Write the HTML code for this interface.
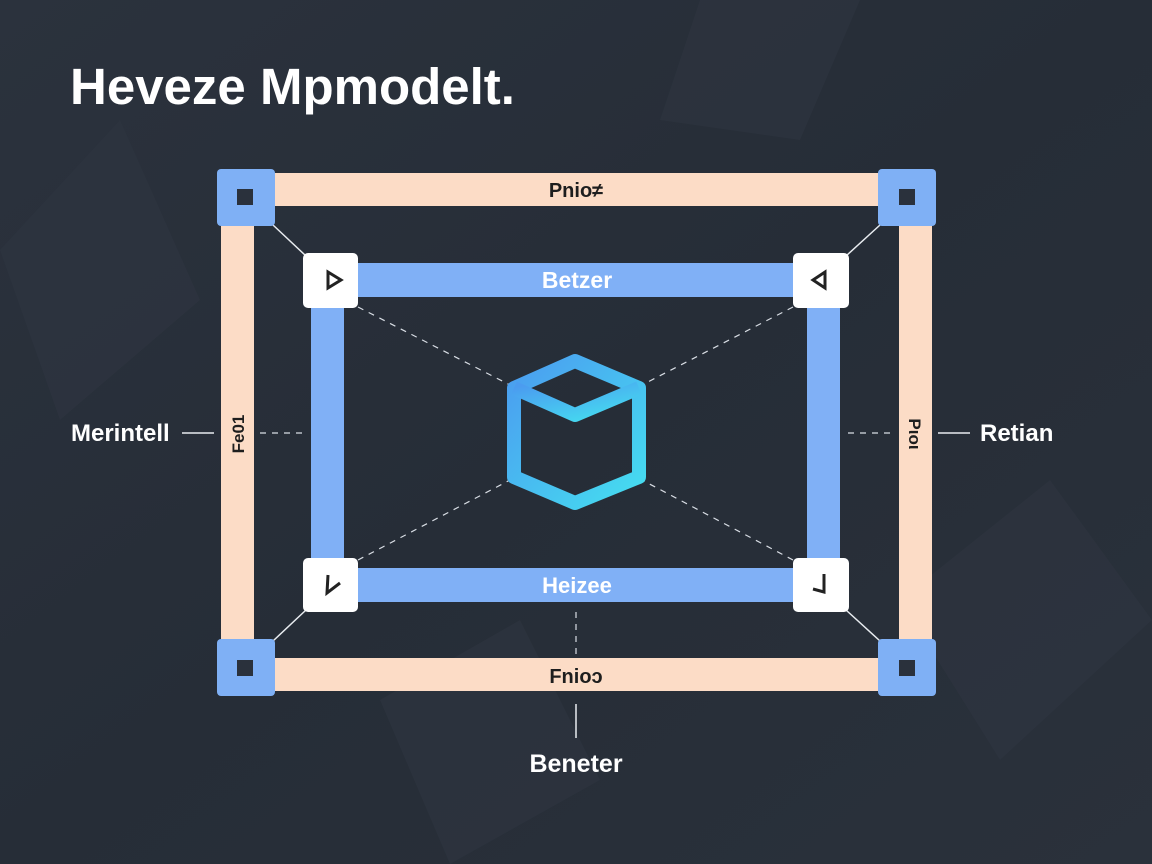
<!DOCTYPE html>
<html><head><meta charset="utf-8"><style>
html,body{margin:0;padding:0;width:1152px;height:864px;overflow:hidden;background:#262d37}
svg{display:block}
text{font-family:"Liberation Sans",sans-serif;font-weight:bold}
</style></head><body>
<svg width="1152" height="864" viewBox="0 0 1152 864" xmlns="http://www.w3.org/2000/svg">
<defs>
<linearGradient id="bg" x1="0" y1="0" x2="1" y2="1">
<stop offset="0" stop-color="#2b323d"/><stop offset="0.5" stop-color="#262d37"/><stop offset="1" stop-color="#2a313b"/>
</linearGradient>
<linearGradient id="cg" x1="0" y1="0" x2="1" y2="1">
<stop offset="0" stop-color="#4b9cf0"/><stop offset="1" stop-color="#45def0"/>
</linearGradient>
</defs>
<rect width="1152" height="864" fill="url(#bg)"/>
<g fill="#2e3541" opacity="0.6">
<polygon points="0,250 120,120 200,300 60,420"/>
<polygon points="900,600 1050,480 1152,620 1000,760"/>
<polygon points="380,700 520,620 600,780 450,864"/>
<polygon points="700,0 860,0 800,140 660,120"/>
</g>
<text x="70" y="104" font-size="51" fill="#ffffff">Heveze Mpmodelt.</text>

<g stroke="#e8ecf0" stroke-width="1.5" fill="none">
<line x1="273" y1="225" x2="306" y2="256"/>
<line x1="880" y1="225" x2="846" y2="256"/>
<line x1="273" y1="641" x2="306" y2="610"/>
<line x1="880" y1="641" x2="846" y2="610"/>
<line x1="182" y1="433" x2="214" y2="433"/>
<line x1="938" y1="433" x2="970" y2="433"/>
<line x1="576" y1="704" x2="576" y2="738"/>
</g>
<g stroke="#d8dde4" stroke-width="1.2" fill="none" stroke-dasharray="6,6">
<line x1="358" y1="307" x2="510" y2="385"/>
<line x1="793" y1="307" x2="642" y2="385"/>
<line x1="358" y1="560" x2="510" y2="480"/>
<line x1="793" y1="560" x2="642" y2="480"/>
<line x1="260" y1="433" x2="305" y2="433"/>
<line x1="848" y1="433" x2="893" y2="433"/>
<line x1="576" y1="612" x2="576" y2="655"/>
</g>

<g fill="#fcdcc6">
<rect x="270" y="173" width="612" height="33"/>
<rect x="270" y="658" width="612" height="33"/>
<rect x="221" y="220" width="33" height="424"/>
<rect x="899" y="220" width="33" height="424"/>
</g>
<g fill="#7fb0f5">
<rect x="217" y="169" width="58" height="57" rx="4"/>
<rect x="878" y="169" width="58" height="57" rx="4"/>
<rect x="217" y="639" width="58" height="57" rx="4"/>
<rect x="878" y="639" width="58" height="57" rx="4"/>
</g>
<g fill="#2a313c">
<rect x="237" y="189" width="16" height="16"/>
<rect x="899" y="189" width="16" height="16"/>
<rect x="237" y="660" width="16" height="16"/>
<rect x="899" y="660" width="16" height="16"/>
</g>

<g fill="#80b0f6">
<rect x="350" y="263" width="450" height="34"/>
<rect x="350" y="568" width="450" height="34"/>
<rect x="311" y="300" width="33" height="265"/>
<rect x="807" y="300" width="33" height="265"/>
</g>
<g fill="#ffffff">
<rect x="303" y="253" width="55" height="55" rx="5"/>
<rect x="793" y="253" width="56" height="55" rx="5"/>
<rect x="303" y="558" width="55" height="54" rx="5"/>
<rect x="793" y="558" width="56" height="54" rx="5"/>
</g>
<g stroke="#222" stroke-width="3" fill="none">
<polygon points="328,272 328,288 341,280"/>
<polygon points="825,272 825,288 813,280"/>
<polyline points="328,575 327,593 340,583"/>
<polyline points="824,574 824,592 813,589"/>
</g>

<g stroke="url(#cg)" stroke-width="14" fill="none" stroke-linejoin="round">
<polygon points="575,361 639,388 639,477 575,503 514,477 514,388"/>
<polyline points="514,388 575,415 639,388"/>
<line x1="575" y1="415" x2="575" y2="503"/>
</g>

<text x="576" y="197" font-size="20" fill="#1e1e1e" text-anchor="middle">Pnio≠</text>
<text x="577" y="288" font-size="23" fill="#ffffff" text-anchor="middle">Betzer</text>
<text x="577" y="593" font-size="22" fill="#ffffff" text-anchor="middle">Heizee</text>
<text x="576" y="683" font-size="20" fill="#1e1e1e" text-anchor="middle">Fnioɔ</text>
<text x="71" y="441" font-size="24" fill="#ffffff">Merintell</text>
<text x="980" y="441" font-size="24" fill="#ffffff">Retian</text>
<text x="576" y="772" font-size="25" fill="#ffffff" text-anchor="middle">Beneter</text>
<text x="0" y="0" font-size="17" fill="#1e1e1e" text-anchor="middle" transform="translate(244,434) rotate(-90)">Fe01</text>
<text x="0" y="0" font-size="17" fill="#1e1e1e" text-anchor="middle" transform="translate(909,434) rotate(90)">Pιoι</text>
</svg>
</body></html>
